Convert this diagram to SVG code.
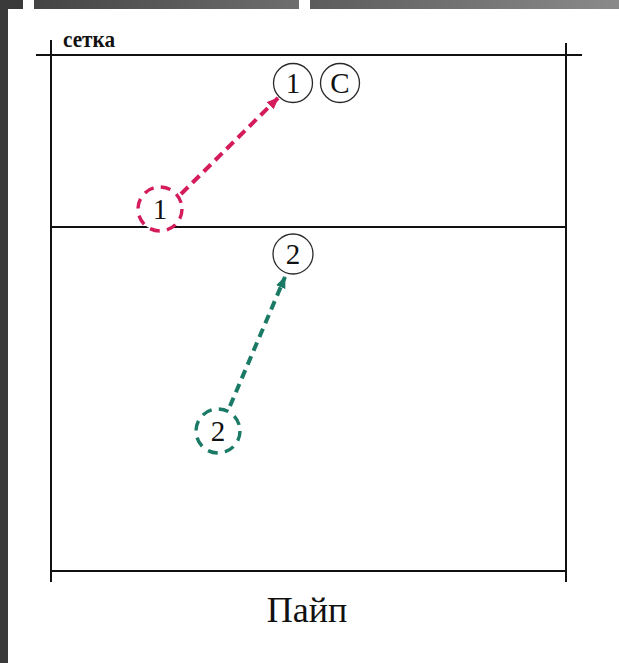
<svg xmlns="http://www.w3.org/2000/svg" width="619" height="663" viewBox="0 0 619 663">
  <defs>
    <linearGradient id="barA" x1="0" y1="0" x2="1" y2="0">
      <stop offset="0" stop-color="#444"/>
      <stop offset="1" stop-color="#6e6e6e"/>
    </linearGradient>
    <linearGradient id="barB" x1="0" y1="0" x2="1" y2="0">
      <stop offset="0" stop-color="#5c5c5c"/>
      <stop offset="1" stop-color="#8a8a8a"/>
    </linearGradient>
    <marker id="arrM" viewBox="0 0 12 10" refX="11" refY="5" markerWidth="12" markerHeight="10" markerUnits="userSpaceOnUse" orient="auto">
      <path d="M0,0 L12,5 L0,10 z" fill="#d41c5c"/>
    </marker>
    <marker id="arrT" viewBox="0 0 12 10" refX="11" refY="5" markerWidth="12" markerHeight="10" markerUnits="userSpaceOnUse" orient="auto">
      <path d="M0,0 L12,5 L0,10 z" fill="#1a7a66"/>
    </marker>
  </defs>
  <style>
    .court { stroke: #111; stroke-width: 2; fill: none; }
    .solid { fill: #fff; stroke: #2a2a2a; stroke-width: 1.3; }
    .dashM { fill: #fff; stroke: #d41c5c; stroke-width: 3.4; stroke-dasharray: 10 7.3; }
    .dashT { fill: #fff; stroke: #1a7a66; stroke-width: 3.4; stroke-dasharray: 10 7.3; }
    .num { font-family: "Liberation Serif", "Times New Roman", serif; font-size: 29px; fill: #111; text-anchor: middle; }
    .lab { font-family: "Liberation Serif", "Times New Roman", serif; fill: #111; }
    .linkM { stroke: #d41c5c; stroke-width: 4; stroke-dasharray: 10 6; fill: none; }
    .linkT { stroke: #1a7a66; stroke-width: 4; stroke-dasharray: 9 6; fill: none; }
  </style>
  <rect x="0" y="0" width="619" height="663" fill="#fff"/>
  <rect x="0" y="0" width="8" height="663" fill="#3a3a3a"/>
  <rect x="0" y="0" width="23" height="9" fill="#3a3a3a"/>
  <rect x="34" y="0" width="265" height="9" fill="url(#barA)"/>
  <rect x="310" y="0" width="309" height="9" fill="url(#barB)"/>

  <g id="court">
    <line class="court" x1="36" y1="55" x2="582" y2="55"/>
    <line class="court" x1="51" y1="40" x2="51" y2="582"/>
    <line class="court" x1="566" y1="43" x2="566" y2="582"/>
    <line class="court" x1="51" y1="227" x2="566" y2="227"/>
    <line class="court" x1="51" y1="571" x2="566" y2="571"/>
    <text class="lab" x="63" y="47" font-size="24" font-weight="bold" textLength="52" lengthAdjust="spacingAndGlyphs">сетка</text>
    <text class="lab" x="307" y="622" font-size="36" text-anchor="middle">Пайп</text>
  </g>

  <g id="connectors">
    <line class="linkM" x1="181" y1="194" x2="278" y2="98" marker-end="url(#arrM)"/>
    <line class="linkT" x1="230" y1="406" x2="285" y2="277" marker-end="url(#arrT)"/>
  </g>

  <g id="node-1-start">
    <circle class="dashM" cx="160" cy="209" r="22"/>
    <text class="num" x="160" y="219">1</text>
  </g>
  <g id="node-1-end">
    <circle class="solid" cx="293" cy="83" r="19.5" stroke="#3a2430"/>
    <text class="num" x="293" y="93">1</text>
  </g>
  <g id="node-c">
    <circle class="solid" cx="340" cy="83" r="19.5"/>
    <text class="num" x="340" y="93">C</text>
  </g>
  <g id="node-2-start">
    <circle class="dashT" cx="218" cy="431" r="22"/>
    <text class="num" x="218" y="441">2</text>
  </g>
  <g id="node-2-end">
    <circle class="solid" cx="293" cy="254" r="20"/>
    <text class="num" x="293" y="264">2</text>
  </g>
</svg>
